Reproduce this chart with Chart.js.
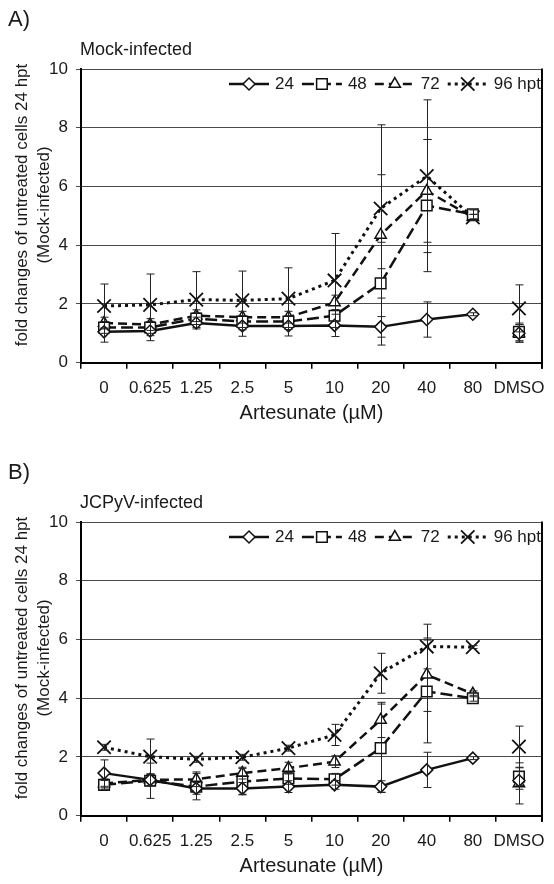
<!DOCTYPE html>
<html><head><meta charset="utf-8">
<script src="https://cdn.jsdelivr.net/npm/chart.js@4.4.1/dist/chart.umd.min.js"></script>
<style>
html,body{margin:0;padding:0;background:#fff;width:554px;height:884px;overflow:hidden;position:relative}
canvas{position:absolute;left:0}
#cA{top:0}
#cB{top:453px}
</style></head><body>
<canvas id="cA" width="554" height="431"></canvas>
<canvas id="cB" width="554" height="431"></canvas>
<script>
// ---------- data ----------
const categories = ['0', '0.625', '1.25', '2.5', '5', '10', '20', '40', '80', 'DMSO'];
const seriesLabels = ['24', '48', '72', '96 hpt'];
const yTicks = [0, 2, 4, 6, 8, 10];

// A) Mock-infected
const mock24 = [1.05, 1.08, 1.35, 1.25, 1.25, 1.27, 1.22, 1.47, 1.65, 1.0];
const mock48 = [1.2, 1.2, 1.5, 1.4, 1.4, 1.6, 2.7, 5.35, 5.05, 1.05];
const mock72 = [1.35, 1.3, 1.6, 1.55, 1.55, 2.05, 4.35, 5.85, 4.95, 1.0];
const mock96 = [1.93, 1.97, 2.15, 2.12, 2.18, 2.8, 5.25, 6.35, 4.95, 1.85];
const mockErr24 = [0.35, 0.33, 0.2, 0.35, 0.34, 0.38, 0.35, 0.6, 0.05, 0.3];
const mockErr48 = [0.2, 0.2, 0.2, 0.2, 0.2, 0.2, 0.5, 2.25, 0.15, 0.3];
const mockErr72 = [0.2, 0.2, 0.2, 0.2, 0.2, 0.25, 3.75, 1.75, 0.1, 0.3];
const mockErr96 = [0.75, 1.05, 0.95, 1.0, 1.05, 1.6, 1.15, 2.6, 0.1, 0.8];

// B) JCPyV-infected
const jc24 = [1.45, 1.22, 0.93, 0.93, 0.99, 1.05, 0.99, 1.56, 1.96, 1.2];
const jc48 = [1.05, 1.19, 0.99, 1.16, 1.27, 1.24, 2.3, 4.23, 4.0, 1.33];
const jc72 = [1.1, 1.22, 1.24, 1.45, 1.62, 1.84, 3.26, 4.8, 4.15, 1.1];
const jc96 = [2.33, 2.01, 1.92, 1.99, 2.3, 2.75, 4.85, 5.76, 5.74, 2.35];
const jcErr24 = [0.45, 0.2, 0.2, 0.2, 0.2, 0.15, 0.2, 0.6, 0.05, 0.3];
const jcErr48 = [0.15, 0.6, 0.45, 0.45, 0.2, 0.2, 1.5, 1.75, 0.1, 0.3];
const jcErr72 = [0.15, 0.2, 0.25, 0.2, 0.2, 0.2, 0.6, 1.25, 0.1, 0.7];
const jcErr96 = [0.1, 0.6, 0.1, 0.1, 0.1, 0.36, 0.68, 0.76, 0.05, 0.7];

// ---------- styling ----------
const FONT = "'Liberation Sans', Arial, Helvetica, sans-serif";
const INK = '#111';
const styles = [
  { borderDash: [], borderWidth: 2.5, pointStyle: 'rectRot', pointRadius: 6 },
  { borderDash: [12, 5], borderWidth: 2.5, pointStyle: 'rect', pointRadius: 7.5 },
  { borderDash: [9, 5], borderWidth: 2.5, pointStyle: 'triangle', pointRadius: 6.5 },
  { borderDash: [3, 4], borderWidth: 3, pointStyle: 'crossRot', pointRadius: 9.5 }
];

function drawMarker(ctx, style, r, x, y) {
  ctx.save();
  ctx.setLineDash([]);
  ctx.lineWidth = style === 'crossRot' ? 1.8 : 1.5;
  ctx.strokeStyle = INK;
  ctx.fillStyle = '#fff';
  Chart.helpers.drawPoint(ctx, { pointStyle: style, radius: r, rotation: 0, borderWidth: ctx.lineWidth }, x, y);
  ctx.restore();
}

function makeOverlay(errs, panel, subtitle) {
  return {
    id: 'overlay',
    afterDatasetsDraw(chart) {
      const { ctx, scales: { x, y } } = chart;
      ctx.save();
      ctx.strokeStyle = '#222';
      ctx.lineWidth = 1;
      ctx.setLineDash([]);
      chart.data.datasets.forEach((ds, i) => {
        errs[i].forEach((e, j) => {
          const v = ds.data[j];
          if (v == null || !e) return;
          const px = Math.round(x.getPixelForValue(j)) + 0.5;
          const yt = y.getPixelForValue(v + e);
          const yb = y.getPixelForValue(Math.max(v - e, 0));
          ctx.beginPath();
          ctx.moveTo(px, yt); ctx.lineTo(px, yb);
          ctx.moveTo(px - 4, yt); ctx.lineTo(px + 4, yt);
          ctx.moveTo(px - 4, yb); ctx.lineTo(px + 4, yb);
          ctx.stroke();
        });
      });
      ctx.restore();
    },
    afterDraw(chart) {
      const { ctx, chartArea: ca } = chart;
      ctx.save();
      // right frame line
      ctx.strokeStyle = '#000';
      ctx.lineWidth = 2;
      ctx.beginPath();
      ctx.moveTo(ca.right, ca.top - 0.5);
      ctx.lineTo(ca.right, ca.bottom + 6);
      ctx.stroke();
      // panel label + subtitle
      ctx.fillStyle = '#1a1a1a';
      ctx.textBaseline = 'middle';
      ctx.textAlign = 'left';
      ctx.font = `22px ${FONT}`;
      ctx.fillText(panel, 8, ca.top - 49);
      ctx.font = `18px ${FONT}`;
      ctx.fillText(subtitle, 80, ca.top - 19);
      // y axis title (two lines)
      ctx.font = `17px ${FONT}`;
      ctx.textAlign = 'center';
      const cy = ca.top + 136;
      ctx.save(); ctx.translate(22, cy); ctx.rotate(-Math.PI / 2);
      ctx.fillText('fold changes of untreated cells 24 hpt', 0, 0); ctx.restore();
      ctx.save(); ctx.translate(44, cy); ctx.rotate(-Math.PI / 2);
      ctx.fillText('(Mock-infected)', 0, 0); ctx.restore();
      // legend
      ctx.font = `17px ${FONT}`;
      ctx.textAlign = 'left';
      const ly = ca.top + 15;
      const LINE = 40, GAP1 = 6, GAP2 = 8;
      let xr = 541;
      const pos = [];
      for (let i = seriesLabels.length - 1; i >= 0; i--) {
        const w = ctx.measureText(seriesLabels[i]).width;
        const tx = xr - w;
        const lx1 = tx - GAP1, lx0 = lx1 - LINE;
        pos[i] = { tx, lx0, lx1 };
        xr = lx0 - GAP2;
      }
      seriesLabels.forEach((lab, i) => {
        const st = styles[i];
        const p = pos[i];
        ctx.strokeStyle = INK;
        ctx.lineWidth = st.borderWidth;
        ctx.setLineDash(st.borderDash);
        ctx.beginPath();
        ctx.moveTo(p.lx0, ly); ctx.lineTo(p.lx1, ly);
        ctx.stroke();
        drawMarker(ctx, st.pointStyle, st.pointRadius, (p.lx0 + p.lx1) / 2, ly);
        ctx.setLineDash([]);
        ctx.fillStyle = '#1a1a1a';
        ctx.fillText(lab, p.tx, ly);
      });
      ctx.restore();
    }
  };
}

function makeChart(id, series, errs, panel, subtitle) {
  const datasets = series.map((d, i) => ({
    label: seriesLabels[i],
    data: d,
    borderColor: INK,
    borderWidth: styles[i].borderWidth,
    borderDash: styles[i].borderDash,
    pointStyle: styles[i].pointStyle,
    pointRadius: styles[i].pointRadius,
    pointBackgroundColor: '#fff',
    pointBorderColor: INK,
    pointBorderWidth: styles[i].pointStyle === 'crossRot' ? 1.8 : 1.5,
    fill: false,
    tension: 0,
    segment: { borderColor: c => (c.p1DataIndex === categories.length - 1 ? 'rgba(0,0,0,0)' : undefined) }
  }));
  return new Chart(document.getElementById(id), {
    type: 'line',
    data: { labels: categories, datasets },
    options: {
      responsive: false,
      animation: false,
      devicePixelRatio: 1,
      layout: { padding: { top: 69, right: 7, left: 0, bottom: 0 } },
      plugins: { legend: { display: false }, tooltip: { enabled: false } },
      scales: {
        x: {
          offset: true,
          grid: { offset: true, drawOnChartArea: false, drawTicks: true, tickLength: 6, color: '#000', lineWidth: 1.5 },
          border: { color: '#000', width: 2 },
          ticks: { font: { size: 17, family: FONT }, color: '#1a1a1a', padding: 9, maxRotation: 0, autoSkip: false },
          title: { display: true, text: 'Artesunate (µM)', color: '#1a1a1a', font: { size: 20, family: FONT }, padding: { top: 0, bottom: 6 } },
          afterFit: s => { s.height = 68.3; }
        },
        y: {
          min: 0, max: 10,
          afterBuildTicks: s => { s.ticks = yTicks.map(v => ({ value: v })); },
          grid: { color: '#4a4a4a', lineWidth: 1, tickLength: 5 },
          border: { color: '#000', width: 2 },
          ticks: { font: { size: 17, family: FONT }, color: '#1a1a1a', padding: 8 },
          afterFit: s => { s.width = 81; }
        }
      }
    },
    plugins: [makeOverlay(errs, panel, subtitle)]
  });
}

makeChart('cA', [mock24, mock48, mock72, mock96], [mockErr24, mockErr48, mockErr72, mockErr96], 'A)', 'Mock-infected');
makeChart('cB', [jc24, jc48, jc72, jc96], [jcErr24, jcErr48, jcErr72, jcErr96], 'B)', 'JCPyV-infected');
</script>
</body></html>
